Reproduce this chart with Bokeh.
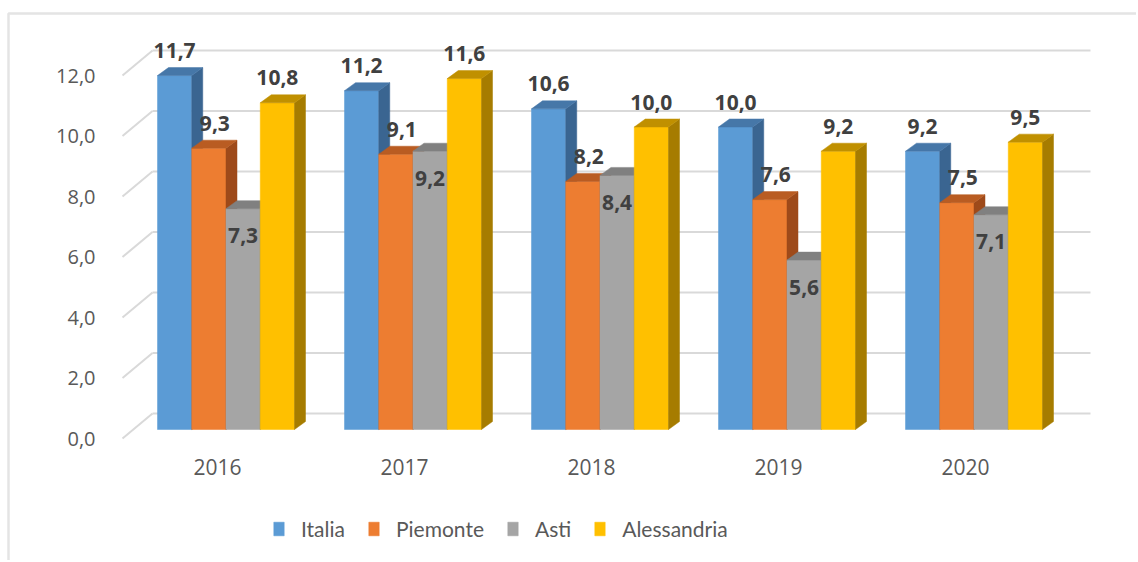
import numpy as np
from bokeh.plotting import figure
from bokeh.models import Range1d, FixedTicker, Legend, LegendItem, BoxAnnotation
from bokeh.core.properties import value
from bokeh.embed import file_html
from bokeh.resources import INLINE

# ---- data ----
years = ["2016", "2017", "2018", "2019", "2020"]
series = ["Italia", "Piemonte", "Asti", "Alessandria"]
italia = [11.7, 11.2, 10.6, 10.0, 9.2]
piemonte = [9.3, 9.1, 8.2, 7.6, 7.5]
asti = [7.3, 9.2, 8.4, 5.6, 7.1]
alessandria = [10.8, 11.6, 10.0, 9.2, 9.5]
y_ticks = [0, 2, 4, 6, 8, 10, 12]

# ---- styles ----
front_colors = ["#5b9bd5", "#ed7d31", "#a5a5a5", "#ffc000"]
top_colors = ["#4677a8", "#b95c22", "#808080", "#c09000"]
side_colors = ["#3a6591", "#9e4a1a", "#777777", "#a67c00"]
label_dx = [0, 6, 0, 0]         # px
label_dy = [-25, -25, 27, -25]  # px (positive = down)
FONT = "Open Sans"
GRID = "#d9d9d9"

W, H = 1136, 560
X0, UX = 217, 187.0    # canvas x of first category, px per category
Y0, UY = 438, 30.25    # canvas y of value 0 (front plane), px per unit


def px_x(d):
    return d / UX


def px_y(d):
    return d / UY


def cx(px):   # canvas x -> data x
    return (px - X0) / UX


def cy(py):   # canvas y -> data y
    return (Y0 - py) / UY


p = figure(width=W, height=H, output_backend="svg", toolbar_location=None,
           x_range=Range1d(cx(0), cx(W)), y_range=Range1d(cy(H), cy(0)),
           min_border=0, min_border_left=0, min_border_right=0,
           min_border_top=0, min_border_bottom=0)
p.title.visible = False
p.outline_line_color = None
p.grid.visible = False
p.background_fill_color = "white"
p.border_fill_color = "white"

# ---- 3D gridlines (floor diagonal + back wall) ----
back_dx, back_dy = px_x(30), px_y(25)
front_left = cx(122)
grid_right = cx(1090)
yt = np.array(y_ticks, dtype=float)
p.segment(x0=front_left, y0=yt, x1=front_left + back_dx, y1=yt + back_dy,
          line_color=GRID, line_width=2)
p.segment(x0=front_left + back_dx, y0=yt + back_dy, x1=grid_right, y1=yt + back_dy,
          line_color=GRID, line_width=2)

# ---- 3D bars ----
bw = px_x(34.25)
off_x, off_y = px_x(8.5), px_y(9)
dep_x, dep_y = px_x(11), px_y(8)
idx = np.arange(len(years))
data = [italia, piemonte, asti, alessandria]
renderers = []
for j, (name, vals) in enumerate(zip(series, data)):
    v = np.array(vals, dtype=float)
    xc = idx + (j - 1.5) * bw + off_x
    xl, xr = xc - bw / 2, xc + bw / 2
    y0 = np.full_like(v, off_y)
    y1 = v + off_y
    r = p.vbar(x=xc, width=bw, bottom=y0, top=y1, fill_color=front_colors[j],
               line_color=front_colors[j], line_width=0.5)
    renderers.append(r)
    side_xs = [[a, a + dep_x, a + dep_x, a] for a in xr]
    side_ys = [[b0, b0 + dep_y, b1 + dep_y, b1] for b0, b1 in zip(y0, y1)]
    p.patches(xs=side_xs, ys=side_ys, fill_color=side_colors[j],
              line_color=side_colors[j], line_width=0.5)
    top_xs = [[a, b, b + dep_x, a + dep_x] for a, b in zip(xl, xr)]
    top_ys = [[t, t, t + dep_y, t + dep_y] for t in y1]
    p.patches(xs=top_xs, ys=top_ys, fill_color=top_colors[j],
              line_color=top_colors[j], line_width=0.5)
    p.text(x=xc, y=y1, text=[f"{a:.1f}".replace(".", ",") for a in v],
           x_offset=label_dx[j], y_offset=label_dy[j],
           text_font=value(FONT), text_font_style="bold", text_font_size="21px",
           text_color="#404040", text_align="center", text_baseline="middle")

# ---- axes (drawn at fixed positions inside the canvas) ----
for ax in (p.xaxis, p.yaxis):
    ax.axis_line_color = None
    ax.major_tick_line_color = None
    ax.minor_tick_line_color = None
    ax.major_tick_out = 0
    ax.major_tick_in = 0
    ax.major_label_text_font = FONT
    ax.major_label_text_color = "#595959"
p.xaxis.fixed_location = cy(443)
p.xaxis.ticker = FixedTicker(ticks=[int(i) for i in idx])
p.xaxis.major_label_overrides = {int(i): y for i, y in zip(idx, years)}
p.xaxis.major_label_standoff = 15
p.xaxis.major_label_text_font_size = "21px"
p.yaxis.fixed_location = cx(110)
p.yaxis.ticker = FixedTicker(ticks=y_ticks)
p.yaxis.major_label_overrides = {t: f"{t:.1f}".replace(".", ",") for t in y_ticks}
p.yaxis.major_label_standoff = 15
p.yaxis.major_label_text_font_size = "20px"

# ---- legend ----
legend = Legend(items=[LegendItem(label=n, renderers=[r]) for n, r in zip(series, renderers)],
                orientation="horizontal", location=(272, H - 541),
                label_text_font="Lato", label_text_font_size="21px", label_text_color="#595959",
                glyph_width=13, glyph_height=17, label_height=22, label_standoff=16, spacing=22,
                padding=0, margin=0, border_line_color=None, background_fill_alpha=0)
p.add_layout(legend)

# ---- outer chart border (left and top edges visible) ----
p.add_layout(BoxAnnotation(left=cx(8), right=cx(W + 50), top=cy(13), bottom=cy(H + 50),
                           fill_color=None, line_color="#a6a6a6", line_width=2.5))

open("out.html", "w").write(file_html(p, INLINE))
